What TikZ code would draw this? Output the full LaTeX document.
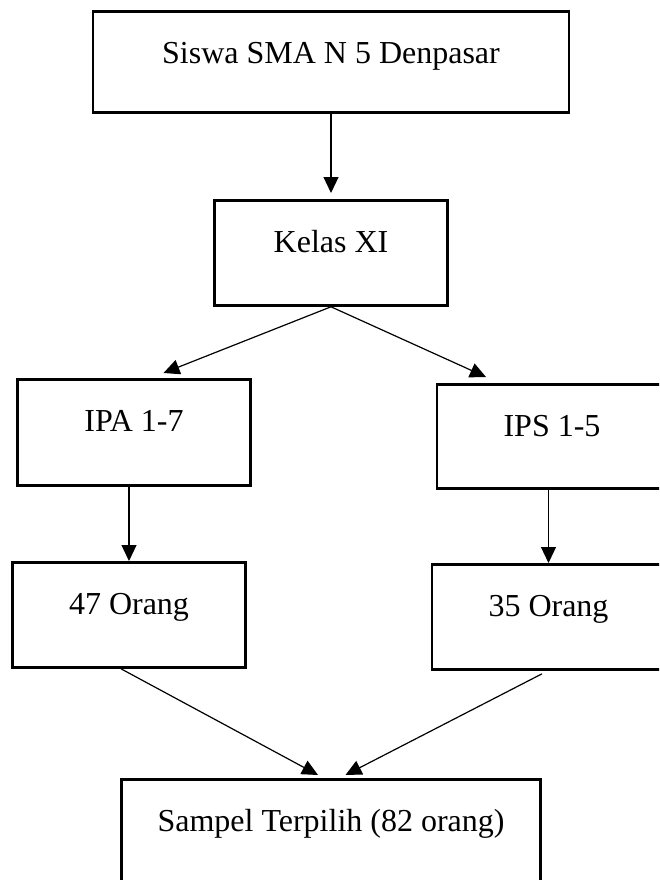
\documentclass[tikz,border=0pt]{standalone}
\usepackage{fontspec}
\setmainfont{Liberation Serif}
\usetikzlibrary{arrows.meta}

\newcommand*\boxline{2.8pt}
\newcommand*\baseskip{52pt}
\tikzset{stage/.style 2 args={
    draw,
    line width=\boxline,
    rectangle,
    anchor=north,
    inner sep=0pt,
    minimum width=#1,
    text height=\baseskip,
    text depth=#2,
    font=\fontsize{32}{38}\selectfont
}}
\tikzset{flow/.style={
    -{Triangle[length=16pt,width=15pt]},
    line width=1.2pt
}}

\begin{document}
\begin{tikzpicture}[x=1pt,y=-1pt]

    \useasboundingbox (0,0) rectangle (659,880);
    \clip (0,0) rectangle (659,880);

    % Population and class.
    \node[stage={476pt}{49pt}] (siswa) at (331,10) {Siswa SMA N 5 Denpasar};
    \node[stage={233pt}{53pt}] (kelas) at (331,199) {Kelas XI};

    % The two streams.
    \node[stage={233pt}{54pt}] (ipa) at (134,378) {IPA 1-7};
    \node[stage={230pt}{52pt}] (ips) at (552,383) {IPS 1-5};

    % Number of students in each stream.
    \node[stage={233pt}{53pt}] (ipaN) at (129,561) {47 Orang};
    \node[stage={233pt}{53pt}] (ipsN) at (548.5,563) {35 Orang};

    % Final sample.
    \node[stage={419pt}{51pt}] (sampel) at (331,778) {Sampel Terpilih (82 orang)};

    % Draw the arrows.
    \draw[flow] (siswa.south) -- ([yshift=6pt]kelas.north);
    \draw[flow] (kelas.south) -- ([xshift=29.5pt,yshift=5pt]ipa.north);
    \draw[flow] (kelas.south) -- ([xshift=-66pt,yshift=6pt]ips.north);
    \draw[flow] (ipa.south -| ipaN.north) -- (ipaN.north);
    \draw[flow] (ips.south -| ipsN.north) -- (ipsN.north);
    \draw[flow] ([xshift=-8pt]ipaN.south) -- ([xshift=-13pt,yshift=3pt]sampel.north);
    \draw[flow] ([xshift=-6.5pt,yshift=-3pt]ipsN.south) -- ([xshift=14.5pt,yshift=3pt]sampel.north);

\end{tikzpicture}
\end{document}
